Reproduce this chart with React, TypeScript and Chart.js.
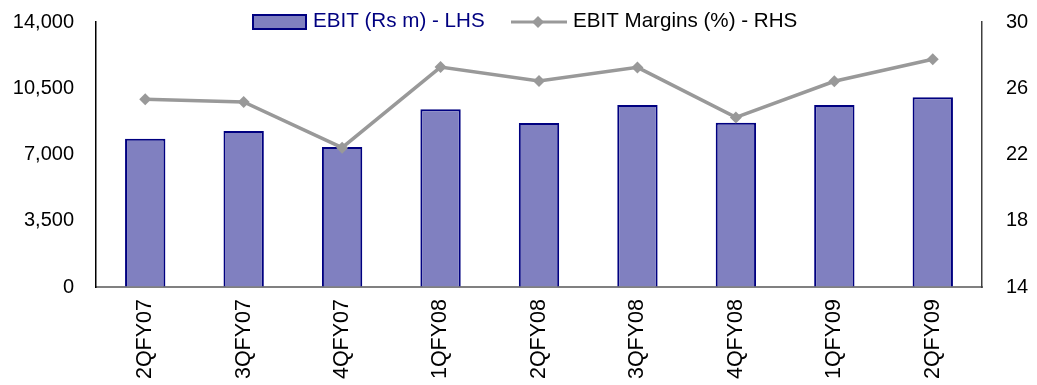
import React, { useEffect, useRef } from "react";
import { Chart, registerables } from "chart.js";

Chart.register(...registerables);

const categories = ["2QFY07", "3QFY07", "4QFY07", "1QFY08", "2QFY08", "3QFY08", "4QFY08", "1QFY09", "2QFY09"];
const ebitValues = [7830, 8240, 7400, 9390, 8670, 9620, 8680, 9620, 10020];
const marginValues = [25.33, 25.17, 22.41, 27.28, 26.44, 27.26, 24.24, 26.42, 27.75];
const leftTicks = [0, 3500, 7000, 10500, 14000];
const rightTicks = [14, 18, 22, 26, 30];
const barLabel = "EBIT (Rs m) - LHS";
const lineLabel = "EBIT Margins (%) - RHS";

const FONT = "'Liberation Sans', Arial, sans-serif";
const BAR_FILL = "#8080C0";
const BAR_BORDER = "#000080";
const LINE_COLOR = "#999999";

const legendPlugin = {
  id: "customLegend",
  afterDraw(chart: any) {
    const ctx = chart.ctx;
    ctx.save();
    ctx.font = `20.6px ${FONT}`;
    ctx.textBaseline = "middle";
    // bar legend
    ctx.fillStyle = BAR_FILL;
    ctx.fillRect(253, 15, 53, 14);
    ctx.strokeStyle = BAR_BORDER;
    ctx.lineWidth = 2;
    ctx.strokeRect(253, 15, 53, 14);
    ctx.fillStyle = BAR_BORDER;
    ctx.textAlign = "left";
    ctx.fillText(barLabel, 313, 21);
    // line legend
    ctx.strokeStyle = LINE_COLOR;
    ctx.lineWidth = 3;
    ctx.beginPath();
    ctx.moveTo(511, 22);
    ctx.lineTo(567, 22);
    ctx.stroke();
    ctx.fillStyle = LINE_COLOR;
    ctx.beginPath();
    ctx.moveTo(538, 16);
    ctx.lineTo(544, 22);
    ctx.lineTo(538, 28);
    ctx.lineTo(532, 22);
    ctx.closePath();
    ctx.fill();
    ctx.fillStyle = "#000000";
    ctx.fillText(lineLabel, 573, 21);
    ctx.restore();
  },
};

function fixVertical(width: number) {
  return (scale: any) => {
    scale.width = width;
    scale.paddingTop = 0;
    scale.paddingBottom = 0;
  };
}

export default function App() {
  const ref = useRef<HTMLCanvasElement>(null);
  useEffect(() => {
    document.body.style.margin = "0";
    const chart = new Chart(ref.current as HTMLCanvasElement, {
      type: "bar",
      data: {
        labels: categories,
        datasets: [
          {
            type: "line",
            label: lineLabel,
            data: marginValues,
            yAxisID: "y1",
            borderColor: LINE_COLOR,
            backgroundColor: LINE_COLOR,
            borderWidth: 3.5,
            pointStyle: "rectRot",
            pointRadius: 6,
            pointBackgroundColor: LINE_COLOR,
            pointBorderColor: LINE_COLOR,
            pointBorderWidth: 0,
            tension: 0,
            order: 0,
          } as any,
          {
            type: "bar",
            label: barLabel,
            data: ebitValues,
            yAxisID: "y",
            backgroundColor: BAR_FILL,
            borderColor: BAR_BORDER,
            borderWidth: 2,
            categoryPercentage: 1,
            barPercentage: 0.41,
            order: 1,
          } as any,
        ],
      },
      options: {
        responsive: false,
        animation: false,
        layout: { padding: { top: 22, left: 0, right: 0, bottom: 0 } },
        plugins: { legend: { display: false }, tooltip: { enabled: false } },
        scales: {
          x: {
            grid: { display: true, drawOnChartArea: false, drawTicks: false, color: "transparent" },
            border: { display: true, color: "#808080", width: 2 },
            ticks: {
              minRotation: 90,
              maxRotation: 90,
              padding: 12,
              color: "#000000",
              font: { family: FONT, size: 21.5 },
            },
            afterFit(scale: any) {
              scale.height = 98;
              scale.paddingLeft = 0;
              scale.paddingRight = 0;
            },
          },
          y: {
            position: "left",
            min: 0,
            max: 14000,
            afterBuildTicks(scale: any) {
              scale.ticks = leftTicks.map((v) => ({ value: v }));
            },
            grid: { display: true, drawOnChartArea: false, drawTicks: false, color: "transparent" },
            border: { display: true, color: "#000000", width: 1.5 },
            ticks: {
              padding: 22,
              color: "#000000",
              font: { family: FONT, size: 20 },
              callback: (v: any) => Number(v).toLocaleString("en-US"),
            },
            afterFit: fixVertical(96),
          },
          y1: {
            position: "right",
            min: 14,
            max: 30,
            afterBuildTicks(scale: any) {
              scale.ticks = rightTicks.map((v) => ({ value: v }));
            },
            grid: { display: true, drawOnChartArea: false, drawTicks: false, color: "transparent" },
            border: { display: true, color: "#404040", width: 1.5 },
            ticks: {
              padding: 24,
              color: "#000000",
              font: { family: FONT, size: 20 },
            },
            afterFit: fixVertical(55),
          },
        },
      },
      plugins: [legendPlugin],
    });
    return () => chart.destroy();
  }, []);
  return <canvas ref={ref} width={1037} height={385} style={{ display: "block" }} />;
}
